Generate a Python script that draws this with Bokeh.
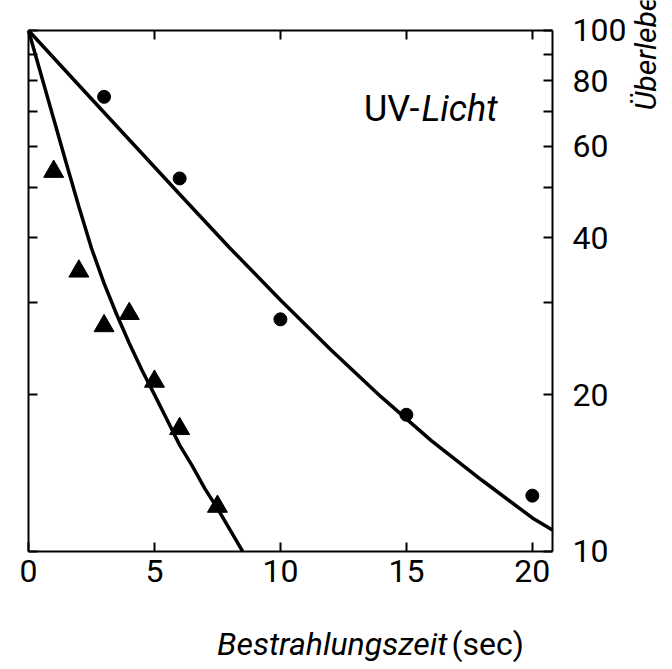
import math

from bokeh.plotting import figure
from bokeh.models import Range1d, LinearAxis, LogAxis, FixedTicker, Label
from bokeh.embed import file_html
from bokeh.resources import INLINE

# Measured survival (percent) after UV irradiation
t_circle = [3, 6, 10, 15, 20]
s_circle = [74.6, 52, 27.9, 18.3, 12.8]
t_tri = [1, 2, 3, 4, 5, 6, 7.5]
s_tri = [53.6, 34.5, 27.1, 28.6, 21.2, 17.2, 12.2]

# Support points of the two drawn survival curves
fit_circle_t = [0, 2, 4, 6, 8, 10, 12, 14, 16, 18, 20, 20.8]
fit_circle_s = [100, 78.5, 61.7, 48.5, 38.2, 30.4, 24.4, 19.8, 16.3, 13.7, 11.6, 11.0]
fit_tri_t = [0, 0.5, 1.0, 1.5, 2.0, 2.5, 3.0, 3.5, 4.0, 4.5, 5.0, 5.5,
             6.0, 6.5, 7.0, 7.5, 8.0, 8.5]
fit_tri_s = [100, 82.2, 67.6, 55.6, 45.9, 38.2, 32.7, 28.5, 25.1, 22.3,
             20.0, 17.9, 16.0, 14.6, 13.2, 12.1, 11.0, 10.0]

x_ticks = [0, 5, 10, 15, 20]
y_ticks = [10, 20, 30, 40, 50, 60, 70, 80, 90, 100]
y_tick_labels = {10: "10", 20: "20", 40: "40", 60: "60", 80: "80", 100: "100"}

x_title = "Bestrahlungszeit"
x_unit = "(sec)"
y_title = "Überlebende (%)"

# extent of the boxed plot area in data units
X0, X1 = 0, 20.8
Y0, Y1 = 10, 100

FONT = "Roboto"
W, H = 672, 669

# The frame fills the whole canvas; the box axes are pinned at the data
# limits so that titles can sit anywhere around the box.
p = figure(
    width=W, height=H, title=None,
    x_range=Range1d(-1.1115, 25.5634), y_range=Range1d(5.936, 114.17),
    y_axis_type="log", x_axis_location=None, y_axis_location=None,
    output_backend="svg", toolbar_location=None,
    min_border=0, background_fill_color="white", border_fill_color="white",
)
p.grid.visible = False
p.outline_line_color = None


def box_axis(ax, show_labels, standoff=0):
    ax.axis_line_color = "black"
    ax.axis_line_width = 2
    ax.major_tick_line_color = "black"
    ax.major_tick_line_width = 2
    ax.major_tick_in = 9
    ax.major_tick_out = 0
    ax.minor_tick_line_color = None
    if show_labels:
        ax.major_label_text_font = FONT
        ax.major_label_text_font_size = "32px"
        ax.major_label_text_color = "black"
        ax.major_label_standoff = standoff
    else:
        ax.major_label_text_font_size = "0px"
        ax.major_label_text_color = None
        ax.major_label_standoff = 0


# bottom: time axis with labels
xb = LinearAxis(ticker=FixedTicker(ticks=x_ticks), fixed_location=Y0,
                bounds=(X0, X1))
box_axis(xb, True, 9)
p.add_layout(xb, "below")

# top: tick marks only
xt = LinearAxis(ticker=FixedTicker(ticks=x_ticks[1:]), fixed_location=Y1,
                bounds=(X0, X1))
box_axis(xt, False)
p.add_layout(xt, "above")

# right: survival on a log scale, labelled
yr = LogAxis(ticker=FixedTicker(ticks=y_ticks), fixed_location=X1,
             bounds=(Y0, Y1))
yr.major_label_overrides = {t: y_tick_labels.get(t, "") for t in y_ticks}
box_axis(yr, True, 20)
p.add_layout(yr, "right")

# left: tick marks only
yl = LogAxis(ticker=FixedTicker(ticks=y_ticks), fixed_location=X0,
             bounds=(Y0, Y1))
box_axis(yl, False)
p.add_layout(yl, "left")

# curves
p.line(fit_circle_t, fit_circle_s, line_color="black", line_width=3.5)
p.line(fit_tri_t, fit_tri_s, line_color="black", line_width=3.5)

# data points
p.scatter(t_circle, s_circle, marker="circle", size=13,
          fill_color="black", line_color="black")
p.scatter(t_tri, s_tri, marker="triangle", size=20,
          fill_color="black", line_color="black")


def caption(x, y, text, size, style="normal", align="left", angle=0.0,
            baseline="alphabetic"):
    # x, y in pixels from the lower-left corner of the canvas
    p.add_layout(Label(x=x, y=y, x_units="screen", y_units="screen",
                       text=text, text_font=FONT, text_font_size=size,
                       text_font_style=style, text_color="black",
                       text_align=align, text_baseline=baseline,
                       angle=angle))


# in-plot caption: upright "UV-" followed by italic "Licht"
caption(419, H - 108, "UV-", "36px", align="right")
caption(421, H - 108, "Licht", "36px", style="italic")

# x title: italic quantity, upright unit
caption(447, H - 643, x_title, "32px", style="italic", align="right")
caption(451, H - 643, x_unit, "32px")

# y title, reading upwards along the right edge
caption(645, H - 110, y_title, "30px", style="italic", angle=math.pi / 2,
        baseline="middle")

open("out.html", "w").write(file_html(p, INLINE))
